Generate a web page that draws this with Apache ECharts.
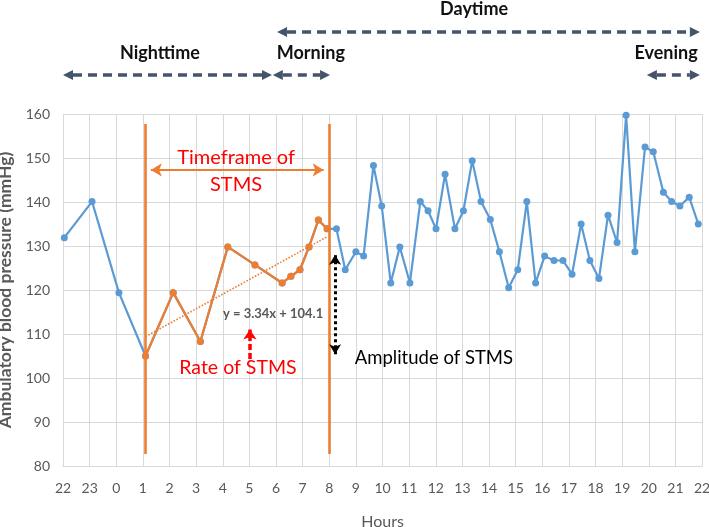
<!DOCTYPE html>
<html><head><meta charset="utf-8">
<script src="https://cdn.jsdelivr.net/npm/echarts@6/dist/echarts.min.js"></script>
<style>html,body{margin:0;padding:0;background:#fff}#c{width:709px;height:527px}</style>
</head><body><div id="c"></div>
<script>
// ---- data (x = hours elapsed since 22:00) ----
const hourTicks = ['22','23','0','1','2','3','4','5','6','7','8','9','10','11','12','13','14','15','16','17','18','19','20','21','22'];
const nightHours = [0.05, 1.09, 2.1];
const nightBP    = [131.9, 140.1, 119.4];
const stmsHours  = [3.1, 4.14, 5.16, 6.19, 7.21, 8.23, 8.56, 8.9, 9.24, 9.59, 9.92];
const stmsBP     = [105.0, 119.4, 108.3, 129.8, 125.7, 121.6, 123.1, 124.6, 129.8, 135.9, 133.9];
const dayHours   = [10.27, 10.6, 11.0, 11.29, 11.66, 11.97, 12.31, 12.65, 13.03, 13.42, 13.71, 14.01, 14.35, 14.72, 15.04, 15.37, 15.7, 16.05, 16.39, 16.74, 17.08, 17.42, 17.75, 18.09, 18.44, 18.78, 19.12, 19.46, 19.79, 20.13, 20.47, 20.81, 21.15, 21.48, 21.86, 22.17, 22.55, 22.86, 23.17, 23.52, 23.86];
const dayBP      = [133.9, 124.6, 128.7, 127.7, 148.3, 139.1, 121.6, 129.8, 121.6, 140.1, 138.0, 133.9, 146.3, 133.9, 138.0, 149.4, 140.1, 136.0, 128.7, 120.5, 124.6, 140.1, 121.6, 127.7, 126.7, 126.7, 123.6, 135.0, 126.7, 122.6, 137.0, 130.8, 159.7, 128.7, 152.5, 151.4, 142.2, 140.1, 139.1, 141.1, 135.0];
const trendHours = [3.1, 9.92];
const trendBP    = [109.4, 132.1];
const stmsWindow = [3.1, 9.99];       // start / end hour of STMS timeframe
const windowRange = [82.7, 157.7];    // vertical extent of window lines
const amplitudeRange = [105.4, 128.0];
const rateArrow = [104.3, 111.0];

// ---- helpers ----
const zip = (xs, ys) => xs.map((x, i) => [x, ys[i]]);
const allHours = nightHours.concat(stmsHours, dayHours);
const allBP = nightBP.concat(stmsBP, dayBP);

const BLUE = '#5B9BD5', ORANGE = '#ED7D31', SLATE = '#44546A', GRID = '#D9D9D9', TXT = '#595959';
const FONT = 'Lato, "Open Sans", sans-serif';

const chart = echarts.init(document.getElementById('c'), null, {renderer: 'canvas'});
chart.setOption({
  animation: false,
  backgroundColor: '#fff',
  textStyle: {fontFamily: FONT},
  grid: {left: 63, right: 7, top: 114, bottom: 61, containLabel: false, outerBoundsMode: 'none'},
  xAxis: {
    type: 'value', min: 0, max: 24, interval: 1,
    name: 'Hours', nameLocation: 'middle', nameGap: 48,
    nameTextStyle: {fontFamily: FONT, fontSize: 16, color: TXT},
    axisLine: {show: true, lineStyle: {color: GRID, width: 1}},
    axisTick: {show: false},
    splitLine: {show: true, lineStyle: {color: GRID, width: 1}},
    axisLabel: {formatter: v => hourTicks[v], fontFamily: FONT, fontSize: 14, color: TXT, margin: 15}
  },
  yAxis: {
    type: 'value', min: 80, max: 160, interval: 10,
    name: 'Ambulatory blood pressure (mmHg)', nameLocation: 'middle', nameGap: 46,
    nameTextStyle: {fontFamily: FONT, fontSize: 17.5, fontWeight: 'bold', color: TXT},
    axisLine: {show: false}, axisTick: {show: false},
    splitLine: {show: true, lineStyle: {color: GRID, width: 1}},
    axisLabel: {fontFamily: FONT, fontSize: 14, color: TXT, margin: 13}
  },
  series: [
    {
      type: 'line', data: zip(allHours, allBP), z: 2,
      symbol: 'circle', symbolSize: 7, showSymbol: true,
      lineStyle: {color: BLUE, width: 2.2}, itemStyle: {color: BLUE},
      silent: true
    },
    {
      type: 'line', data: zip(stmsHours, stmsBP), z: 4,
      symbol: 'circle', symbolSize: 7,
      lineStyle: {color: ORANGE, width: 2.2}, itemStyle: {color: ORANGE},
      silent: true
    },
    {
      type: 'line', data: zip(trendHours, trendBP), z: 3,
      showSymbol: false, symbol: 'none',
      lineStyle: {color: ORANGE, width: 1.6, type: 'dotted'},
      silent: true,
      markLine: {
        silent: true, animation: false, label: {show: false},
        data: [
          [{coord: [stmsWindow[0], windowRange[0]], symbol: 'none', lineStyle: {color: ORANGE, width: 2.6, type: 'solid'}},
           {coord: [stmsWindow[0], windowRange[1]], symbol: 'none'}],
          [{coord: [stmsWindow[1], windowRange[0]], symbol: 'none', lineStyle: {color: ORANGE, width: 2.6, type: 'solid'}},
           {coord: [stmsWindow[1], windowRange[1]], symbol: 'none'}],
          [{coord: [stmsWindow[0] + 0.2, 147.3], symbol: 'arrow', symbolSize: [10, 11], lineStyle: {color: ORANGE, width: 2.2, type: 'solid'}},
           {coord: [stmsWindow[1] - 0.2, 147.3], symbol: 'arrow', symbolSize: [10, 11]}],
          [{coord: [10.22, amplitudeRange[0]], symbol: 'arrow', symbolSize: [9, 10], lineStyle: {color: '#000', width: 3, type: 'dotted'}},
           {coord: [10.22, amplitudeRange[1]], symbol: 'arrow', symbolSize: [9, 10]}],
          [{coord: [7.02, rateArrow[0]], symbol: 'none', lineStyle: {color: '#FF0000', width: 3.5, type: [6, 3]}},
           {coord: [7.02, rateArrow[1]], symbol: 'arrow', symbolSize: [10, 10]}]
        ]
      }
    }
  ]
});

// ---- annotations (positions in data coordinates where inside plot) ----
const P = (x, y) => chart.convertToPixel({gridIndex: 0}, [x, y]);
const graphics = [];
function text(str, x, y, style) {
  graphics.push({type: 'text', x: x, y: y, silent: true, z: 100,
    style: Object.assign({text: str, fontFamily: FONT, textAlign: 'center', textVerticalAlign: 'middle'}, style)});
}
function dataText(str, hx, v, style) { const p = P(hx, v); text(str, p[0], p[1], style); }

dataText('Timeframe of', 6.5, 150.0, {fontSize: 20, fill: '#FF0000'});
dataText('STMS', 6.5, 143.9, {fontSize: 20, fill: '#FF0000'});
dataText('y = 3.34x + 104.1', 7.89, 114.5, {fontSize: 13, fontWeight: 'bold', fill: TXT});
dataText('Rate of STMS', 6.57, 102.3, {fontSize: 19.5, fill: '#FF0000'});
dataText('Amplitude of STMS', 13.93, 104.5, {fontSize: 18.5, fill: '#000'});

// top period arrows (x in hours, y in pixels above plot)
function dashArrow(h0, h1, py) {
  const x0 = P(h0, 100)[0], x1 = P(h1, 100)[0];
  const L = 10, W = 5;
  graphics.push({type: 'line', silent: true, z: 100,
    shape: {x1: x0 + L, y1: py, x2: x1 - L, y2: py},
    style: {stroke: SLATE, lineWidth: 3.5, lineDash: [9, 6]}});
  graphics.push({type: 'polygon', silent: true, z: 100,
    shape: {points: [[x0, py], [x0 + L, py - W], [x0 + L, py + W]]}, style: {fill: SLATE}});
  graphics.push({type: 'polygon', silent: true, z: 100,
    shape: {points: [[x1, py], [x1 - L, py - W], [x1 - L, py + W]]}, style: {fill: SLATE}});
}
dashArrow(8.04, 23.92, 32);
dashArrow(0.0, 7.85, 75);
dashArrow(7.88, 10.03, 75);
dashArrow(21.93, 23.92, 75);
text('Daytime', P(15.44, 100)[0], 9, {fontSize: 18, fontWeight: 'bold', fill: '#111'});
text('Nighttime', P(3.64, 100)[0], 53, {fontSize: 18, fontWeight: 'bold', fill: '#111'});
text('Morning', P(9.31, 100)[0], 53, {fontSize: 18, fontWeight: 'bold', fill: '#111'});
text('Evening', P(22.65, 100)[0], 53, {fontSize: 18, fontWeight: 'bold', fill: '#111'});

chart.setOption({graphic: graphics});
</script></body></html>
